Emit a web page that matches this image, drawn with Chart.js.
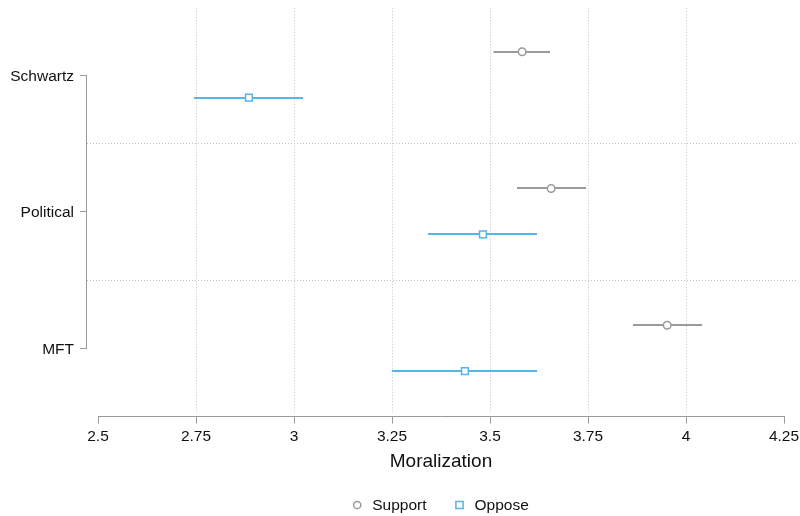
<!DOCTYPE html>
<html>
<head>
<meta charset="utf-8">
<script src="https://cdn.jsdelivr.net/npm/chart.js@4"></script>
<style>
  html, body { margin: 0; padding: 0; background: #fff; }
  #wrap { width: 800px; height: 516px; }
</style>
</head>
<body>
<div id="wrap"><canvas id="chart" width="800" height="516"></canvas></div>
<script>
// --------------- Data ---------------
const groups      = ['MFT', 'Political', 'Schwartz'];   // bottom → top
const groupPos    = [1, 2, 3];
const offset      = 0.168;                             // support above, oppose below

const supportMean = [3.952, 3.656, 3.582];
const supportLo   = [3.865, 3.569, 3.509];
const supportHi   = [4.041, 3.745, 3.653];

const opposeMean  = [3.436, 3.482, 2.885];
const opposeLo    = [3.250, 3.342, 2.745];
const opposeHi    = [3.620, 3.620, 3.023];

const xTicks      = [2.5, 2.75, 3, 3.25, 3.5, 3.75, 4, 4.25];
const seriesNames = ['Support', 'Oppose'];

const GRAY = '#9a9a9a';
const BLUE = '#55b4ea';
const DOT  = '#c2c2c2';
const FONT = "'Liberation Sans', Arial, Helvetica, sans-serif";

function drawMarker(ctx, style, cx, cy, color) {
  ctx.save();
  ctx.strokeStyle = color;
  ctx.lineWidth = 1.5;
  ctx.fillStyle = '#fff';
  ctx.beginPath();
  if (style === 'circle') ctx.arc(cx, cy, 3.6, 0, Math.PI * 2);
  else ctx.rect(cx - 3.6, cy - 3.6, 7.2, 7.2);
  ctx.fill();
  ctx.stroke();
  ctx.restore();
}

// --------------- Custom drawing: grid, separators, y axis, CI bars, legend ---------------
const frame = {
  id: 'frame',
  beforeDatasetsDraw(chart) {
    const { ctx, chartArea: a, scales: { x, y } } = chart;
    ctx.save();
    ctx.strokeStyle = DOT;
    ctx.lineWidth = 1;
    ctx.setLineDash([1, 2]);
    // vertical gridlines (inner ticks only)
    xTicks.slice(1, -1).forEach(v => {
      const px = Math.round(x.getPixelForValue(v)) + 0.5;
      ctx.beginPath(); ctx.moveTo(px, a.top + 2); ctx.lineTo(px, a.bottom - 3); ctx.stroke();
    });
    // group separators
    [1.5, 2.5].forEach(v => {
      const py = Math.round(y.getPixelForValue(v)) + 0.5;
      ctx.beginPath(); ctx.moveTo(87, py); ctx.lineTo(796, py); ctx.stroke();
    });
    ctx.setLineDash([]);

    // y axis line + ticks + labels
    ctx.strokeStyle = GRAY;
    const top = Math.round(y.getPixelForValue(3)) + 0.5;
    const bot = Math.round(y.getPixelForValue(1)) + 0.5;
    ctx.beginPath(); ctx.moveTo(86.5, top); ctx.lineTo(86.5, bot); ctx.stroke();
    ctx.fillStyle = '#111';
    ctx.font = '15.5px ' + FONT;
    ctx.textAlign = 'right';
    ctx.textBaseline = 'middle';
    groups.forEach((g, i) => {
      const py = Math.round(y.getPixelForValue(groupPos[i])) + 0.5;
      ctx.beginPath(); ctx.moveTo(80, py); ctx.lineTo(87, py); ctx.stroke();
      ctx.fillText(g, 74, py + 1);
    });

    // confidence intervals
    ctx.lineWidth = 2;
    const bar = (lo, hi, yv, color) => {
      const py = Math.round(y.getPixelForValue(yv));
      ctx.strokeStyle = color;
      ctx.beginPath();
      ctx.moveTo(x.getPixelForValue(lo), py);
      ctx.lineTo(x.getPixelForValue(hi), py);
      ctx.stroke();
    };
    groupPos.forEach((p, i) => {
      bar(supportLo[i], supportHi[i], p + offset, GRAY);
      bar(opposeLo[i], opposeHi[i], p - offset, BLUE);
    });
    ctx.restore();
  },
  afterDraw(chart) {
    // legend, centred under the plot area
    const { ctx, chartArea: a } = chart;
    ctx.save();
    ctx.font = '15.5px ' + FONT;
    ctx.fillStyle = '#111';
    ctx.textAlign = 'left';
    ctx.textBaseline = 'middle';
    const styles = ['circle', 'rect'];
    const colors = [GRAY, BLUE];
    const markerGap = 19, itemGap = 29;
    const widths = seriesNames.map(n => ctx.measureText(n).width);
    const total = markerGap * 2 + widths[0] + widths[1] + itemGap;
    let cx = (a.left + a.right) / 2 - total / 2;
    const cy = 505;
    seriesNames.forEach((n, i) => {
      drawMarker(ctx, styles[i], cx + 4, cy, colors[i]);
      ctx.fillText(n, cx + markerGap, cy + 1);
      cx += markerGap + widths[i] + itemGap;
    });
    ctx.restore();
  }
};

// --------------- Chart ---------------
new Chart(document.getElementById('chart'), {
  type: 'scatter',
  data: {
    datasets: [
      {
        label: seriesNames[0],
        data: groupPos.map((p, i) => ({ x: supportMean[i], y: p + offset })),
        pointStyle: 'circle',
        pointRadius: 3.8,
        borderColor: GRAY,
        borderWidth: 1.5,
        backgroundColor: '#fff',
      },
      {
        label: seriesNames[1],
        data: groupPos.map((p, i) => ({ x: opposeMean[i], y: p - offset })),
        pointStyle: 'rect',
        pointRadius: 4.8,
        borderColor: BLUE,
        borderWidth: 1.5,
        backgroundColor: '#fff',
      },
    ],
  },
  options: {
    responsive: false,
    animation: false,
    layout: { padding: { left: 98, right: 0, top: 5, bottom: 39 } },
    plugins: {
      tooltip: { enabled: false },
      legend: { display: false },
    },
    scales: {
      x: {
        type: 'linear',
        min: 2.5,
        max: 4.25,
        afterBuildTicks: s => { s.ticks = xTicks.map(v => ({ value: v })); },
        afterFit: s => { s.paddingRight = 16; s.paddingLeft = 0; },
        grid: {
          drawOnChartArea: false,
          drawTicks: true,
          tickLength: 7,
          tickColor: GRAY,
        },
        border: { display: true, color: GRAY, width: 1 },
        ticks: {
          color: '#111',
          font: { family: FONT, size: 15.5 },
          padding: 4,
          maxRotation: 0,
          autoSkip: false,
          callback: v => String(v),
        },
        title: {
          display: true,
          text: 'Moralization',
          color: '#111',
          font: { family: FONT, size: 19 },
          padding: { top: 0, bottom: 4 },
        },
      },
      y: {
        type: 'linear',
        display: false,
        min: 0.5,
        max: 3.5,
      },
    },
  },
  plugins: [frame],
});
</script>
</body>
</html>
